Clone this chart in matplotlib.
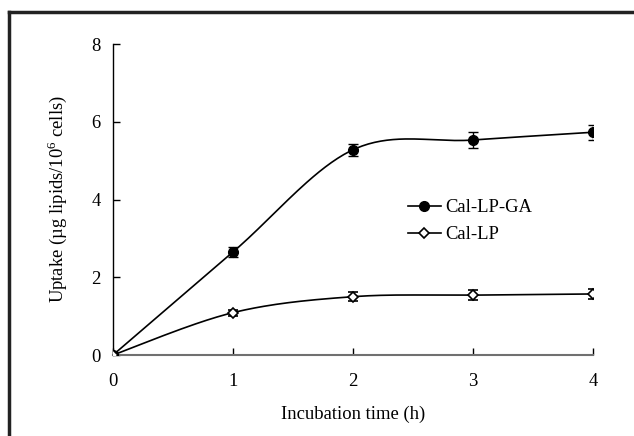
import numpy as np
import matplotlib
matplotlib.use("Agg")
from matplotlib import pyplot as plt
from matplotlib.lines import Line2D

plt.rcParams["font.family"] = ["Liberation Serif", "DejaVu Serif"]
plt.rcParams["mathtext.fontset"] = "custom"
plt.rcParams["mathtext.rm"] = "Liberation Serif"

hours = [0, 1, 2, 3, 4]

ga_y = [0, 2.65, 5.28, 5.53, 5.73]
ga_err = [0, 0.14, 0.16, 0.2, 0.19]

lp_y = [0, 1.09, 1.50, 1.54, 1.57]
lp_err = [0, 0.08, 0.12, 0.13, 0.13]


def smooth(x, y, n=40):
    # Excel-style smoothed line (cardinal spline as bezier segments)
    x = np.asarray(x, float)
    y = np.asarray(y, float)
    px, py = [], []
    for i in range(len(x) - 1):
        x0, y0 = (x[i - 1], y[i - 1]) if i > 0 else (x[i], y[i])
        x3, y3 = (x[i + 2], y[i + 2]) if i + 2 < len(x) else (x[i + 1], y[i + 1])
        c1x = x[i] + (x[i + 1] - x0) / 6
        c1y = y[i] + (y[i + 1] - y0) / 6
        c2x = x[i + 1] - (x3 - x[i]) / 6
        c2y = y[i + 1] - (y3 - y[i]) / 6
        t = np.linspace(0, 1, n)
        bx = (1-t)**3*x[i] + 3*(1-t)**2*t*c1x + 3*(1-t)*t**2*c2x + t**3*x[i+1]
        by = (1-t)**3*y[i] + 3*(1-t)**2*t*c1y + 3*(1-t)*t**2*c2y + t**3*y[i+1]
        px.extend(bx)
        py.extend(by)
    return px, py


fig = plt.figure(figsize=(6.34, 4.36), dpi=100)
ax = fig.add_axes([113/634, 1 - 355/436, 480/634, 311/436])

sx, sy = smooth(hours, ga_y)
ax.plot(sx, sy, color="k", lw=1.2)
sx, sy = smooth(hours, lp_y)
ax.plot(sx, sy, color="k", lw=1.2)

ax.errorbar(hours, ga_y, yerr=ga_err, fmt="o", color="k", ms=7,
            capsize=3.5, elinewidth=1, capthick=1, zorder=3)
ax.errorbar(hours, lp_y, yerr=lp_err, fmt="D", color="k", mfc="white",
            mew=1.2, ms=5.5, capsize=3.5, elinewidth=1, capthick=1, zorder=3)

h1 = Line2D([], [], color="k", lw=1.2, marker="o", ms=7)
h2 = Line2D([], [], color="k", lw=1.2, marker="D", ms=5.5, mfc="white", mew=1.2)
ax.legend([h1, h2], ["Cal-LP-GA", "Cal-LP"], loc="center left",
          bbox_to_anchor=(0.58, 0.43), frameon=False, fontsize=13.4,
          handlelength=1.75, handletextpad=0.27, labelspacing=0.55)

ax.set_xlim(0, 4)
ax.set_ylim(0, 8)
ax.set_xticks(hours)
ax.set_yticks([0, 2, 4, 6, 8])
ax.spines["top"].set_visible(False)
ax.spines["right"].set_visible(False)
ax.spines["bottom"].set_color("#707070")
ax.spines["bottom"].set_linewidth(1.5)
ax.spines["left"].set_linewidth(1)
ax.tick_params(direction="in", length=5, width=1, labelsize=13.4, pad=9)
ax.tick_params(axis="x", pad=13)
for lab in ax.get_xticklabels() + ax.get_yticklabels():
    lab.set_clip_on(False)

ax.set_xlabel("Incubation time (h)", fontsize=13.4, labelpad=11)
ax.set_ylabel("Uptake (\u00b5g lipids/10$^{6}$ cells)", fontsize=13.4, labelpad=16)

fig.add_artist(Line2D([9/634, 9/634], [0, 1 - 12/436], color="#222222", lw=2.5,
                      transform=fig.transFigure))
fig.add_artist(Line2D([9/634, 1], [1 - 12/436, 1 - 12/436], color="#222222", lw=2.5,
                      transform=fig.transFigure))

fig.savefig("out.png", dpi=100)
